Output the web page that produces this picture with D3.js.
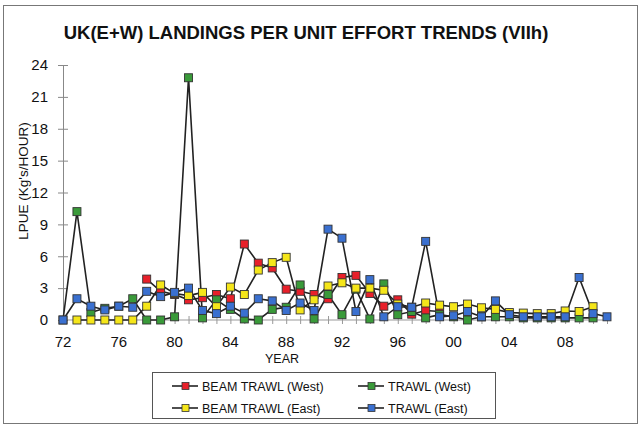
<!DOCTYPE html>
<html><head><meta charset="utf-8">
<script src="https://cdn.jsdelivr.net/npm/d3@7"></script>
<style>body{margin:0;background:#fff}svg{display:block}text{font-family:"Liberation Sans",Arial,sans-serif}</style>
</head><body><svg id="c" width="642" height="428"></svg>
<script>
const years = d3.range(1972, 2012);
const xTickLabels = ["72","76","80","84","88","92","96","00","04","08"];
const yTicks = [0,3,6,9,12,15,18,21,24];
const beamWest = [null,null,null,null,null,null,3.85,2.7,2.4,1.9,2.1,2.4,2.0,7.15,5.35,4.9,2.9,2.7,2.4,2.0,4.0,4.2,2.5,1.3,1.9,0.55,0.9,0.8,null,null,null,null,null,null,null,null,null,null,null,null];
const trawlWest = [0,10.2,0.7,1.1,1.3,2.0,0,0,0.3,22.8,0.2,1.9,1.0,0.1,0,1.0,1.2,3.3,0.1,2.4,0.5,2.9,0.1,3.4,0.5,0.8,0.2,0.5,0.3,0,0.3,0.3,0.3,0.2,0.2,0.2,0.2,0.2,0.2,null];
const beamEast = [null,0,0,0,0,0,1.3,3.3,2.5,2.3,2.6,1.25,3.1,2.4,4.7,5.4,5.9,0.95,1.9,3.2,3.5,3.0,3.0,2.8,1.5,1.2,1.6,1.4,1.25,1.5,1.15,1.0,0.7,0.65,0.6,0.6,0.85,0.8,1.25,null];
const trawlEast = [0,2.0,1.3,0.95,1.3,1.2,2.7,2.2,2.6,3.0,0.9,0.6,1.3,0.65,2.0,1.8,0.9,1.6,0.9,8.55,7.7,0.8,3.8,0.3,1.25,1.2,7.4,0.3,0.4,0.8,0.3,1.8,0.5,0.3,0.3,0.3,0.3,4.0,0.6,0.3];
const seriesNames = ["BEAM TRAWL (West)","TRAWL (West)","BEAM TRAWL (East)","TRAWL (East)"];
const seriesColors = ["#e8202a","#3a9a3a","#f5e61a","#3a70d0"];
const seriesData = [beamWest, trawlWest, beamEast, trawlEast];

const svg = d3.select("#c");
svg.append("rect").attr("x",3.5).attr("y",5.5).attr("width",634).attr("height",418).attr("fill","none").attr("stroke","#777").attr("stroke-width",1);
svg.append("text").attr("x",306).attr("y",39).attr("text-anchor","middle").attr("font-size",18.5).attr("font-weight","bold").attr("fill","#111").text("UK(E+W) LANDINGS PER UNIT EFFORT TRENDS (VIIh)");

const x = d3.scaleLinear().domain([1972, 2011]).range([63, 607]);
const y = d3.scaleLinear().domain([0, 24]).range([320, 65]);

// y axis
const yAxis = d3.axisLeft(y).tickValues(yTicks).tickSize(5).tickPadding(10).tickFormat(d3.format("d"));
const gy = svg.append("g").attr("transform","translate(63,0)").call(yAxis);
gy.select(".domain").attr("stroke","#888");
gy.selectAll(".tick line").attr("stroke","#888").attr("x2",-5).attr("x1",5);
gy.selectAll("text").attr("font-size",15).attr("fill","#111");

// x axis
const xAxis = d3.axisBottom(x).tickValues(d3.range(1972,2012)).tickSize(4).tickFormat("");
const gx = svg.append("g").attr("transform","translate(0,320)").call(xAxis);
gx.select(".domain").attr("stroke","#999").attr("d","M63,0H607");
gx.selectAll(".tick line").attr("stroke","#999").attr("y1",-4).attr("y2",4);
svg.append("g").selectAll("text").data(xTickLabels).join("text")
  .attr("x",(d,i)=>x(1972+i*4)).attr("y",347).attr("text-anchor","middle")
  .attr("font-size",15).attr("fill","#111").text(d=>d);

svg.append("text").attr("x",282).attr("y",363).attr("text-anchor","middle").attr("font-size",12.5).attr("fill","#111").text("YEAR");
svg.append("text").attr("transform","translate(28,181) rotate(-90)").attr("text-anchor","middle").attr("font-size",13.5).attr("fill","#111").text("LPUE (Kg's/HOUR)");

const line = d3.line().defined(d=>d.v!==null).x(d=>x(d.year)).y(d=>y(d.v));
seriesData.forEach((arr,si)=>{
  const pts = years.map((yr,i)=>({year:yr, v: arr[i]}));
  svg.append("path").datum(pts).attr("d",line).attr("fill","none").attr("stroke","#222").attr("stroke-width",1.6);
});
seriesData.forEach((arr,si)=>{
  const pts = years.map((yr,i)=>({year:yr, v: arr[i]})).filter(d=>d.v!==null);
  svg.append("g").selectAll("rect").data(pts).join("rect")
    .attr("x",d=>x(d.year)-4).attr("y",d=>y(d.v)-4).attr("width",8).attr("height",8)
    .attr("fill",seriesColors[si]).attr("stroke","#333").attr("stroke-width",0.9);
});

// legend
const lg = svg.append("g");
lg.append("rect").attr("x",152.5).attr("y",372.5).attr("width",343).attr("height",46).attr("fill","#fff").attr("stroke","#555");
const lpos = [[172,386],[358,386],[172,408],[358,408]];
seriesNames.forEach((n,i)=>{
  const [lx,ly] = lpos[i];
  lg.append("line").attr("x1",lx).attr("x2",lx+26).attr("y1",ly).attr("y2",ly).attr("stroke","#222").attr("stroke-width",1.6);
  lg.append("rect").attr("x",lx+10).attr("y",ly-3.5).attr("width",7).attr("height",7).attr("fill",seriesColors[i]).attr("stroke","#333").attr("stroke-width",0.8);
  lg.append("text").attr("x",lx+30).attr("y",ly+4.5).attr("font-size",12.5).attr("fill","#111").text(n);
});
</script></body></html>
